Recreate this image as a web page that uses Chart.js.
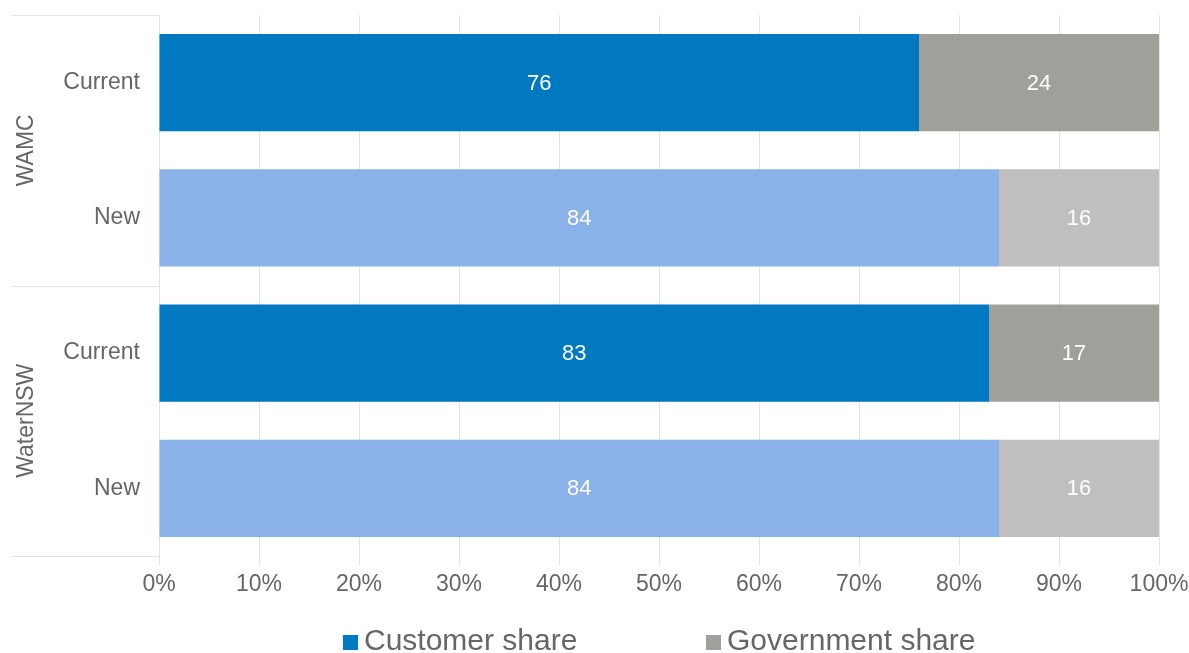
<!DOCTYPE html>
<html>
<head>
<meta charset="utf-8">
<script src="https://cdn.jsdelivr.net/npm/chart.js@4"></script>
<style>
html,body{margin:0;padding:0;background:#fff}
#wrap{width:1189px;height:653px;position:relative}
</style>
</head>
<body>
<div id="wrap"><canvas id="shareChart"></canvas></div>
<script>

// data
const barLabels=["Current","New","Current","New"]
const groupLabels=["WAMC","WaterNSW"]
const customerShare=[76,84,83,84]
const governmentShare=[24,16,17,16]
const customerColours=["#0079C1","#8AB1E8","#0079C1","#8AB1E8"]
const governmentColours=["#A0A09B","#BFBFBF","#A0A09B","#BFBFBF"]
const seriesNames=["Customer share","Government share"]

const FONT="'Liberation Sans', Arial, sans-serif"
const TEXT="#666666"
const GRID="#E3E3E3"

// numbers inside the bars
const valueLabels={
id:"valueLabels",
afterDatasetsDraw(chart){
const ctx=chart.ctx
ctx.save()
ctx.font="22px "+FONT
ctx.fillStyle="#fff"
ctx.textAlign="center"
ctx.textBaseline="middle"
chart.data.datasets.forEach((ds,i)=>{
chart.getDatasetMeta(i).data.forEach((bar,j)=>{
const p=bar.getProps(["x","y","base"],true)
ctx.fillText(ds.data[j],(p.x+p.base)/2,p.y+1)
})
})
ctx.restore()
}
}

// WAMC / WaterNSW group labels, separators and the legend
const groupAxis={
id:"groupAxis",
afterDraw(chart){
const ctx=chart.ctx
const area=chart.chartArea
const y=chart.scales.y
ctx.save()
ctx.strokeStyle=GRID
ctx.lineWidth=1
const mid=(y.getPixelForValue(1)+y.getPixelForValue(2))/2
;[area.top,mid,area.bottom].forEach(py=>{
ctx.beginPath()
ctx.moveTo(12,Math.round(py)+0.5)
ctx.lineTo(area.left,Math.round(py)+0.5)
ctx.stroke()
})
ctx.font="23px "+FONT
ctx.fillStyle=TEXT
ctx.textAlign="center"
ctx.textBaseline="middle"
groupLabels.forEach((g,i)=>{
const cy=(y.getPixelForValue(i*2)+y.getPixelForValue(i*2+1))/2
ctx.save()
ctx.translate(27,cy)
ctx.rotate(-Math.PI/2)
ctx.fillText(g,0,0)
ctx.restore()
})

// legend
ctx.font="30px "+FONT
ctx.textAlign="left"
const legendX=[343,706]
const legendColours=[customerColours[0],governmentColours[0]]
seriesNames.forEach((name,i)=>{
ctx.fillStyle=legendColours[i]
ctx.fillRect(legendX[i],635,15,15)
ctx.fillStyle=TEXT
ctx.fillText(name,legendX[i]+21,642)
})
ctx.restore()
}
}

new Chart(document.getElementById("shareChart"),{

type:"bar",

data:{
labels:barLabels,
datasets:[
{label:seriesNames[0],data:customerShare,backgroundColor:customerColours},
{label:seriesNames[1],data:governmentShare,backgroundColor:governmentColours}
]
},

options:{
indexAxis:"y",
responsive:true,
maintainAspectRatio:false,
animation:false,
layout:{padding:{top:15,right:30,left:0,bottom:0}},
datasets:{bar:{barPercentage:0.72,categoryPercentage:1}},
plugins:{legend:{display:false},tooltip:{enabled:false}},
scales:{
x:{
stacked:true,
min:0,
max:100,
ticks:{stepSize:10,callback:v=>v+"%",color:TEXT,font:{family:FONT,size:23},padding:6},
grid:{color:GRID,tickLength:9,tickColor:GRID},
border:{display:false},
afterFit(s){s.height=97;s.paddingLeft=0;s.paddingRight=0}
},
y:{
stacked:true,
ticks:{color:TEXT,font:{family:FONT,size:23},padding:19},
grid:{display:false,drawTicks:false},
border:{display:true,color:GRID},
afterFit(s){s.width=159;s.paddingTop=0;s.paddingBottom=0}
}
}
},

plugins:[valueLabels,groupAxis]

})

</script>
</body>
</html>
